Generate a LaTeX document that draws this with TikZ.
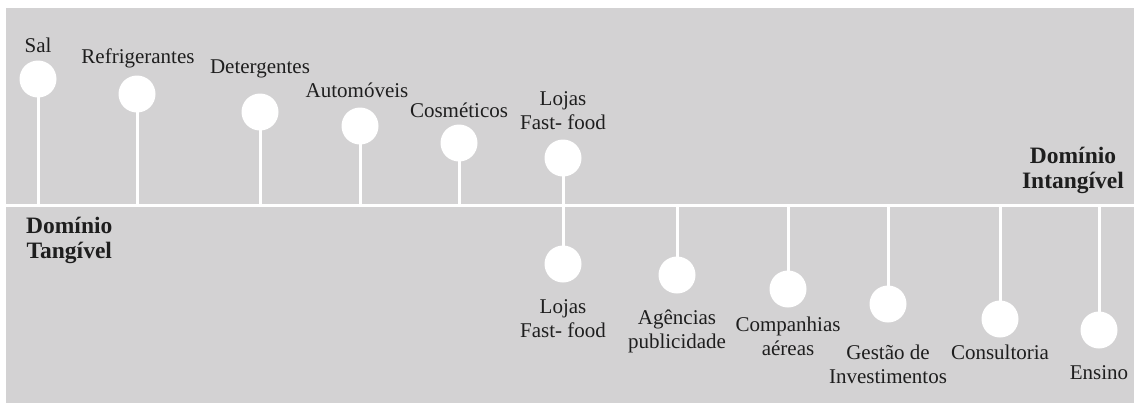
\documentclass[tikz,border=0pt]{standalone}
\usepackage{fontspec}
\setmainfont{Liberation Serif}
\definecolor{panel}{RGB}{211,210,211}
\definecolor{ink}{RGB}{30,30,30}
\begin{document}
\begin{tikzpicture}[x=1pt,y=-1pt,
  dot/.style={circle,fill=white,draw=none,minimum size=37pt,inner sep=0pt},
  stem/.style={draw=white,line width=3pt},
  lbl/.style={text=ink,font=\fontsize{21}{24}\selectfont,align=center,inner sep=0pt},
  dom/.style={text=ink,font=\fontsize{23.5}{25}\selectfont\bfseries,align=center,inner sep=0pt}]
\useasboundingbox (0,0) rectangle (1134,405);
\fill[white] (0,0) rectangle (1134,405);
\fill[panel] (6,8) rectangle (1134,403);
% axis
\coordinate (axL) at (6,205);
\coordinate (axR) at (1134,205);
\draw[stem] (axL) -- (axR);
% top items
\node[dot] (t1) at (38,79) {};
\node[dot] (t2) at (137,94) {};
\node[dot] (t3) at (260,112) {};
\node[dot] (t4) at (360,126) {};
\node[dot] (t5) at (459,143) {};
\node[dot] (t6) at (563,158) {};
% bottom items
\node[dot] (b1) at (563,264) {};
\node[dot] (b2) at (677,275) {};
\node[dot] (b3) at (788,289) {};
\node[dot] (b4) at (888,304) {};
\node[dot] (b5) at (1000,319) {};
\node[dot] (b6) at (1099,330) {};
% stems
\foreach \n in {t1,t2,t3,t4,t5}
  \draw[stem] (\n.center) -- (\n.center |- axL);
\draw[stem] (t6.center) -- (b1.center);
\foreach \n in {b2,b3,b4,b5,b6}
  \draw[stem] (\n.center) -- (\n.center |- axL);
% labels top
\node[lbl] (l1) at (38,45) {Sal};
\node[lbl] (l2) at (138,58) {Refrigerantes};
\node[lbl] (l3) at (260,69) {Detergentes};
\node[lbl] (l4) at (357,90) {Automóveis};
\node[lbl] (l5) at (459,110) {Cosméticos};
\node[lbl] (l6) at (563,111) {Lojas\\Fast- food};
% labels bottom
\node[lbl] (m1) at (563,319) {Lojas\\Fast- food};
\node[lbl] (m2) at (677,331) {Agências\\publicidade};
\node[lbl] (m3) at (788,336) {Companhias\\aéreas};
\node[lbl] (m4) at (888,364) {Gestão de\\Investimentos};
\node[lbl] (m5) at (1000,352) {Consultoria};
\node[lbl] (m6) at (1099,373) {Ensino};
% domains
\node[dom,anchor=west] (dT) at (26,240) {Domínio\\Tangível};
\node[dom] (dI) at (1073,170) {Domínio\\Intangível};
\end{tikzpicture}
\end{document}
